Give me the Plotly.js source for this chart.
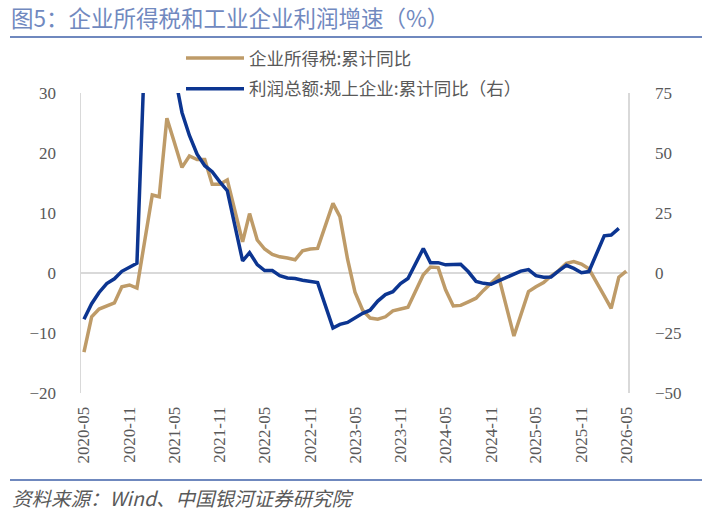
<!DOCTYPE html>
<html>
<head>
<meta charset="utf-8">
<script src="https://cdn.plot.ly/plotly-3.0.1.min.js"></script>
<style>html,body{margin:0;padding:0;background:#fff;}#chart{width:712px;height:512px;}</style>
</head>
<body>
<div id="chart"></div>
<script>
// Months (date axis; January is merged into February in the source data)
const months = [
  '2020-05','2020-06','2020-07','2020-08','2020-09','2020-10','2020-11','2020-12',
  '2021-02','2021-03','2021-04','2021-05','2021-06','2021-07','2021-08','2021-09','2021-10','2021-11','2021-12',
  '2022-02','2022-03','2022-04','2022-05','2022-06','2022-07','2022-08','2022-09','2022-10','2022-11','2022-12',
  '2023-02','2023-03','2023-04','2023-05','2023-06','2023-07','2023-08','2023-09','2023-10','2023-11','2023-12',
  '2024-02','2024-03','2024-04','2024-05','2024-06','2024-07','2024-08','2024-09','2024-10','2024-11','2024-12',
  '2025-02','2025-03','2025-04','2025-05','2025-06','2025-07','2025-08','2025-09','2025-10','2025-11','2025-12',
  '2026-02','2026-03','2026-04','2026-05'
];
// 企业所得税:累计同比 (left axis, %)
const taxYoY = [
  -13.2, -7.3, -6.0, -5.5, -5.0, -2.3, -2.0, -2.5,
  13.0, 12.7, 25.8, 21.8, 17.6, 19.5, 18.9, 18.9, 14.8, 14.8, 15.5,
  5.2, 9.9, 5.5, 4.0, 3.1, 2.7, 2.5, 2.2, 3.7, 4.0, 4.1,
  11.6, 9.4, 2.3, -3.2, -6.2, -7.5, -7.7, -7.3, -6.3, -6.0, -5.7,
  -0.3, 1.0, 0.9, -2.8, -5.5, -5.4, -4.8, -4.2, -2.9, -1.6, -0.5,
  -10.5, -6.8, -3.1, -2.3, -1.6, -0.5, 0.4, 1.6, 1.9, 1.5, 0.7,
  -3.8, -5.9, -0.7, 0.3
];
// 利润总额:规上企业:累计同比 (right axis, %)
const profitYoY = [
  -19.3, -12.8, -8.1, -4.4, -2.4, 0.7, 2.4, 4.1,
  178.9, 137.3, 106.0, 83.4, 66.9, 57.3, 49.5, 44.7, 42.2, 38.0, 34.3,
  5.0, 8.5, 3.5, 1.0, 1.0, -1.1, -2.1, -2.3, -3.0, -3.6, -4.0,
  -22.9, -21.4, -20.6, -18.8, -16.8, -15.5, -11.7, -9.0, -7.8, -4.4, -2.3,
  10.2, 4.3, 4.3, 3.4, 3.5, 3.6, 0.5, -3.5, -4.3, -4.7, -3.3,
  -0.3, 0.8, 1.4, -1.1, -1.8, -1.7, 0.9, 3.2, 1.9, 0.1, 0.6,
  15.5, 15.8, 18.6, null
];
const seriesNames = ['企业所得税:累计同比', '利润总额:规上企业:累计同比（右）'];
const leftTicks = [-20, -10, 0, 10, 20, 30];
const rightTicks = [-50, -25, 0, 25, 50, 75];
const xTicks = ['2020-05','2020-11','2021-05','2021-11','2022-05','2022-11','2023-05','2023-11','2024-05','2024-11','2025-05','2025-11','2026-05'];

const dates = months.map(m => m + '-01');
const W = 712, H = 512;
const L = 81, R = 628, T = 93, B = 393;
const px = x => (x - L) / (R - L);
const py = y => (B - y) / (B - T);

const serif = '"Liberation Serif", "Times New Roman", serif';
const cjk = '"Noto Sans CJK SC", "Noto Sans", sans-serif';

const traces = [
  {x: dates, y: taxYoY, name: seriesNames[0], type: 'scatter', mode: 'lines',
   line: {color: '#BE9B68', width: 3.5}, yaxis: 'y', legendgroup: 'a', connectgaps: false},
  {x: dates, y: profitYoY, name: seriesNames[1], type: 'scatter', mode: 'lines',
   line: {color: '#0C3591', width: 3.5}, yaxis: 'y2', legendgroup: 'b', connectgaps: false}
];

const layout = {
  width: W, height: H,
  margin: {l: L, r: W - R, t: T, b: H - B, pad: 0},
  paper_bgcolor: '#fff', plot_bgcolor: '#fff',
  showlegend: true,
  title: {text: '图5：企业所得税和工业企业利润增速（%）', x: 11 / W, xanchor: 'left',
          y: 1 - 19 / H, yanchor: 'middle', yref: 'container', xref: 'container',
          font: {family: cjk, size: 22.5, color: '#7189BF'}},
  legend: {x: px(181), y: py(40), xanchor: 'left', yanchor: 'top', bgcolor: 'rgba(0,0,0,0)',
           font: {family: cjk, size: 17.5, color: '#595959'}, tracegroupgap: 5, itemwidth: 58,
           traceorder: 'grouped'},
  xaxis: {type: 'date', range: ['2020-04-19', '2026-05-08'], tickvals: xTicks.map(t => t + '-01'),
          ticktext: xTicks, tickangle: -90, showgrid: false, zeroline: false, showline: false,
          ticks: 'outside', ticklen: 6, tickcolor: 'rgba(0,0,0,0)',
          tickfont: {family: serif, size: 17, color: '#595959'}},
  yaxis: {range: [-20, 30], tickvals: leftTicks, showgrid: false, zeroline: true,
          zerolinecolor: '#D9D9D9', zerolinewidth: 1.5, showline: true, linecolor: '#D9D9D9', linewidth: 1.5,
          ticks: 'outside', ticklen: 20, tickcolor: 'rgba(0,0,0,0)',
          tickfont: {family: serif, size: 17, color: '#595959'}},
  yaxis2: {range: [-50, 75], tickvals: rightTicks, overlaying: 'y', side: 'right', showgrid: false,
           zeroline: false, showline: true, linecolor: '#D9D9D9', linewidth: 1.5,
           ticks: 'outside', ticklen: 22, tickcolor: 'rgba(0,0,0,0)',
           tickfont: {family: serif, size: 17, color: '#595959'}},
  shapes: [
    {type: 'line', xref: 'paper', yref: 'paper', x0: px(10), x1: px(702), y0: py(37), y1: py(37),
     line: {color: '#6F88BE', width: 2}},
    {type: 'line', xref: 'paper', yref: 'paper', x0: px(10), x1: px(702), y0: py(480), y1: py(480),
     line: {color: '#6F88BE', width: 2}}
  ],
  annotations: [
    {text: '<i>资料来源：Wind、中国银河证券研究院</i>', xref: 'paper', yref: 'paper', x: px(10), y: py(497),
     xanchor: 'left', yanchor: 'middle', showarrow: false,
     font: {family: cjk, size: 19.5, color: '#595959'}}
  ]
};

Plotly.newPlot('chart', traces, layout, {displayModeBar: false, staticPlot: true});
</script>
</body>
</html>
